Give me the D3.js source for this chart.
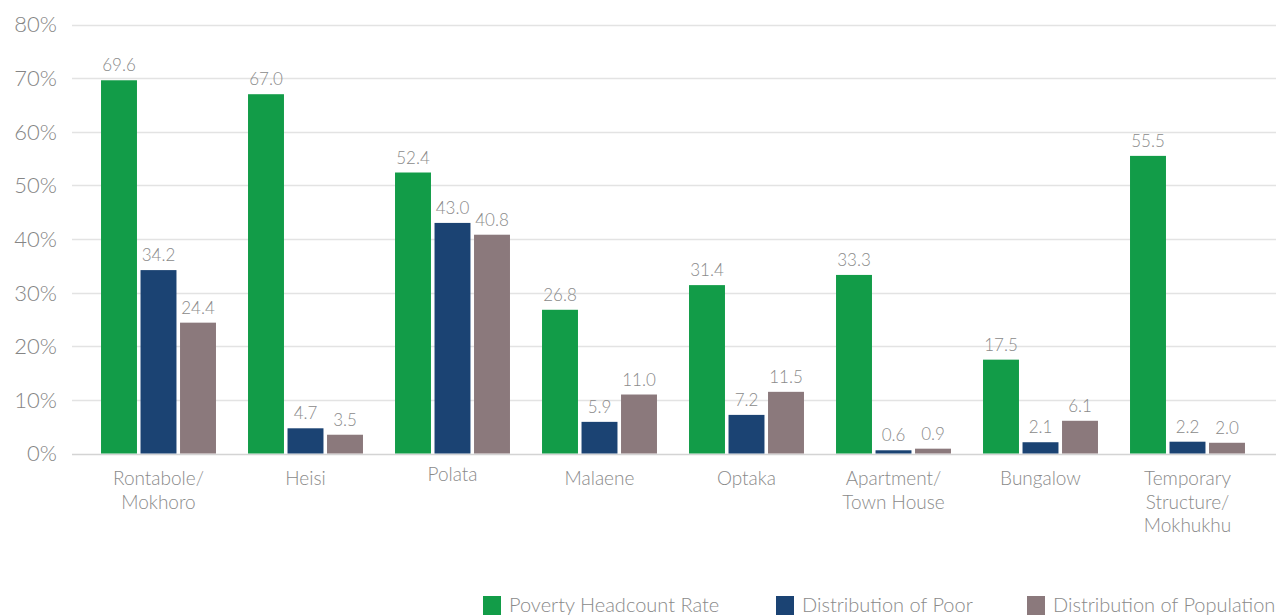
<!DOCTYPE html>
<html>
<head>
<meta charset="utf-8">
<script src="https://cdn.jsdelivr.net/npm/d3@7"></script>
<style>
  html, body { margin: 0; padding: 0; background: #fff; }
  svg { display: block; font-family: Lato, "Open Sans", sans-serif; font-weight: 300; }
</style>
</head>
<body>
<svg id="chart" width="1280" height="615"></svg>
<script>
// Dwelling types (line breaks marked with "\n")
const categories = [
  "Rontabole/\nMokhoro",
  "Heisi",
  "Polata",
  "Malaene",
  "Optaka",
  "Apartment/\nTown House",
  "Bungalow",
  "Temporary\nStructure/\nMokhukhu"
];
const seriesNames = ["Poverty Headcount Rate", "Distribution of Poor", "Distribution of Population"];
const povertyHeadcount = [69.6, 67.0, 52.4, 26.8, 31.4, 33.3, 17.5, 55.5];
const distributionPoor = [34.2, 4.7, 43.0, 5.9, 7.2, 0.6, 2.1, 2.2];
const distributionPopulation = [24.4, 3.5, 40.8, 11.0, 11.5, 0.9, 6.1, 2.0];
const yTicks = [0, 10, 20, 30, 40, 50, 60, 70, 80];
const colors = ["#129c48", "#1b4373", "#8b797c"];

const seriesValues = [povertyHeadcount, distributionPoor, distributionPopulation];

const svg = d3.select("#chart");

const y = d3.scaleLinear().domain([0, 80]).range([453.5, 24.5]);
const x0 = d3.scaleBand().domain(categories).range([85, 1261]).paddingInner(0.218).paddingOuter(0.109);
const x1 = d3.scaleBand().domain(seriesNames).range([0, x0.bandwidth()]).paddingInner(0.09);

// Horizontal gridlines
svg.append("g")
  .selectAll("line")
  .data(yTicks)
  .join("line")
  .attr("x1", 72).attr("x2", 1276)
  .attr("y1", d => Math.round(y(d)) + 0.5)
  .attr("y2", d => Math.round(y(d)) + 0.5)
  .attr("stroke", d => d === 0 ? "#d4d4d4" : "#e3e3e3")
  .attr("stroke-width", 1.5);

// Y axis labels
svg.append("g")
  .selectAll("text")
  .data(yTicks)
  .join("text")
  .attr("x", 57)
  .attr("y", d => y(d))
  .attr("dy", "0.36em")
  .attr("text-anchor", "end")
  .attr("fill", "#858585")
  .attr("font-size", 22)
  .text(d => d + "%");

// Bars grouped by category
const groups = svg.append("g")
  .selectAll("g")
  .data(categories)
  .join("g")
  .attr("transform", d => `translate(${x0(d)},0)`);

groups.selectAll("rect")
  .data((d, i) => seriesNames.map((s, k) => ({ s, k, v: seriesValues[k][i] })))
  .join("rect")
  .attr("x", d => x1(d.s))
  .attr("width", x1.bandwidth())
  .attr("y", d => y(d.v))
  .attr("height", d => y(0) - y(d.v))
  .attr("fill", d => colors[d.k]);

groups.selectAll("text.val")
  .data((d, i) => seriesNames.map((s, k) => ({ s, k, v: seriesValues[k][i] })))
  .join("text")
  .attr("class", "val")
  .attr("x", d => x1(d.s) + x1.bandwidth() / 2)
  .attr("y", d => y(d.v) - 9)
  .attr("text-anchor", "middle")
  .attr("fill", "#8a8a8a")
  .attr("font-size", 17)
  .text(d => d.v.toFixed(1));

// Category labels ("Polata" sits a little higher than the others)
svg.append("g")
  .selectAll("text")
  .data(categories)
  .join("text")
  .attr("x", d => x0(d) + x0.bandwidth() / 2)
  .attr("y", d => d === "Polata" ? 481 : 485)
  .attr("text-anchor", "middle")
  .attr("fill", "#8a8a8a")
  .attr("font-size", 19)
  .selectAll("tspan")
  .data(d => d.split("\n"))
  .join("tspan")
  .attr("x", function() { return this.parentNode.getAttribute("x"); })
  .attr("dy", (d, i) => i === 0 ? 0 : 23.5)
  .text(d => d);

// Legend
const legendX = [483, 776, 1027];
const legend = svg.append("g")
  .selectAll("g")
  .data(seriesNames)
  .join("g")
  .attr("transform", (d, i) => `translate(${legendX[i]},596)`);

legend.append("rect")
  .attr("width", 18).attr("height", 19)
  .attr("fill", (d, i) => colors[i]);

legend.append("text")
  .attr("x", 26)
  .attr("y", 16)
  .attr("fill", "#8a8a8a")
  .attr("font-size", 20)
  .text(d => d);
</script>
</body>
</html>
